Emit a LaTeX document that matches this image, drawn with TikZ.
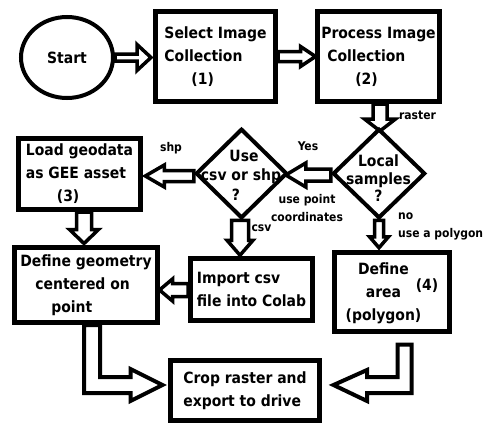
\documentclass[tikz,border=0pt]{standalone}
\usepackage{fontspec}
\newfontfamily\dvb{DejaVu Sans Condensed Bold}
\usetikzlibrary{shapes.geometric,calc,backgrounds}
\tikzset{
  txt/.style={font=\dvb\fontsize{15.5}{23}\selectfont, inner sep=0pt},
  box/.style={draw, line width=5pt, inner sep=0pt, align=left, txt},
  dia/.style={draw, diamond, line width=4pt, inner sep=0pt},
  lbl/.style={font=\dvb\fontsize{12}{18}\selectfont, inner sep=0pt},
  blkline/.style={draw, line width=3.5pt, fill=white, line join=miter},
  pics/blk/.style n args={4}{code={
    \draw[blkline] (0,-#2) -- ({#1-#4},-#2) -- ({#1-#4},-#3) -- (#1,0)
      -- ({#1-#4},#3) -- ({#1-#4},#2) -- (0,#2) -- cycle;
  }}
}
\begin{document}
\begin{tikzpicture}[x=1pt,y=-1pt]
\begin{scope}[on background layer]
  \fill[white] (0,0) rectangle (492,431);
\end{scope}
\useasboundingbox (0,0) rectangle (492,431);

% nodes
\node[draw, ellipse, line width=4pt, minimum width=92pt, minimum height=81pt, txt] (start) at (67,57.5) {Start};
\node[box, minimum width=120pt, minimum height=90pt] (box1) at (215.5,56.5) {Select Image\\Collection\\\hspace*{27pt}(1)};
\node[box, minimum width=122pt, minimum height=90pt] (box2) at (378.5,56.5) {Process Image\\\hspace*{6pt}Collection\\\hspace*{34pt}(2)};
\node[dia, minimum width=92.4pt, minimum height=89.5pt] (loc) at (379,173.5) {};
\node[txt, align=center, font=\dvb\fontsize{15.5}{17.5}\selectfont] (loct) at (378.5,178.5) {Local\\samples\\?};
\node[dia, minimum width=91.4pt, minimum height=89.5pt] (use) at (241.5,173.5) {};
\node[txt, align=center, font=\dvb\fontsize{15.5}{19.5}\selectfont] (uset) at (241,175) {\hspace*{6pt}Use\\csv or shp\\?\hspace*{10pt}};
\node[box, minimum width=122pt, minimum height=71pt] (load) at (79.5,174) {Load geodata\\as GEE asset\\\hspace*{31pt}(3)};
\node[box, minimum width=143pt, minimum height=75pt] (geo) at (86,285) {Define geometry\\\hspace*{15pt}centered on\\\hspace*{31pt}point};
\node[box, minimum width=122pt, minimum height=62pt] (imp) at (251.5,289.5) {Import csv\\file into Colab};
\node[box, minimum width=115pt, minimum height=79pt] (area) at (392,292) {};
\node[txt, align=center] (areat) at (383.5,293) {Define\\area\\(polygon)};
\node[txt] (area4) at (427,285.5) {(4)};
\node[box, minimum width=149pt, minimum height=60pt] (crop) at (245,390.5) {Crop raster and\\export to drive};

% small labels
\node[lbl] (lraster) at (417.5,115) {raster};
\node[lbl] (lyes) at (308,146.5) {Yes};
\node[lbl] (lshp) at (171,148) {shp};
\node[lbl, align=center] (lpt) at (307,208) {use point\\coordinates};
\node[lbl] (lcsv) at (261.5,228) {csv};
\node[lbl, align=left, anchor=west] (lno) at (398,226) {no\\use a polygon};

% block arrows
\begin{scope}[on background layer]
  \pic at (start.east) {blk={36}{3.5}{13}{14}};
  \pic at (box1.east) {blk={37.5}{5}{10}{15}};
  \pic[rotate=-90] at ($(box2.south)+(1.5,0)$) {blk={27}{7}{15.5}{12}};
  \pic[rotate=180] at ($(loc.west)+(0,1.5)$) {blk={45}{6}{12}{20}};
  \pic[rotate=180] at ($(use.west)+(0,2.5)$) {blk={48.5}{5.5}{11}{19}};
  \pic[rotate=-90] at ($(load.south)+(4.5,0)$) {blk={31.5}{7.5}{14.5}{14}};
  \pic[rotate=-90] at ($(use.south)+(-1.5,0)$) {blk={35}{8.5}{13}{15}};
  \pic[rotate=180] at ($(imp.west)+(0,0.5)$) {blk={28.5}{6.5}{11}{13}};
  \pic[rotate=-90] at (loc.south) {blk={27.5}{4.5}{9.5}{11}};
  \draw[blkline, line width=4pt] let \p1=(geo.south), \p2=(crop.west) in
    (\x1-2pt,\y1) -- (\x1-2pt,\y2-2.5pt) -- (\x2-37.5pt,\y2-2.5pt)
    -- (\x2-37.5pt,\y2-10.5pt) -- (\x2-5.5pt,\y2+5.5pt) -- (\x2-37.5pt,\y2+21.5pt)
    -- (\x2-37.5pt,\y2+13.5pt) -- (\x1+14pt,\y2+13.5pt) -- (\x1+14pt,\y1) -- cycle;
  \draw[blkline, line width=4pt] let \p1=(area.south), \p2=(crop.east) in
    (\x1+5.5pt,\y1-10.5pt) -- (\x1+5.5pt,\y2+13.5pt) -- (\x2+45pt,\y2+13.5pt)
    -- (\x2+45pt,\y2+20.5pt) -- (\x2+11.5pt,\y2+5.5pt) -- (\x2+45pt,\y2-10.5pt)
    -- (\x2+45pt,\y2-2.5pt) -- (\x1+19.5pt,\y2-2.5pt) -- (\x1+19.5pt,\y1-10.5pt) -- cycle;
\end{scope}
\end{tikzpicture}
\end{document}
